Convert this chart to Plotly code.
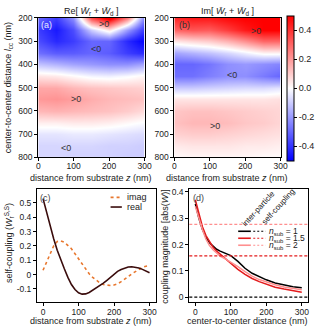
import plotly.graph_objects as go

W, H = 321, 332
FONT = "Liberation Sans, Arial, sans-serif"

# ---------------- data ----------------
z_grid = [0, 50, 100, 150, 200, 250, 300]
lcc_grid = [200, 250, 300, 350, 400, 450, 500, 550, 600, 650, 700, 750, 800]

re_w = [
    [-0.30, -0.38, -0.22, 0.35, 0.55, 0.25, -0.25],
    [-0.38, -0.45, -0.35, -0.10, 0.05, -0.20, -0.40],
    [-0.35, -0.42, -0.38, -0.30, -0.30, -0.42, -0.50],
    [-0.28, -0.32, -0.32, -0.30, -0.32, -0.38, -0.42],
    [-0.12, -0.15, -0.18, -0.20, -0.22, -0.22, -0.18],
    [0.05, 0.04, 0.01, -0.02, -0.03, -0.01, 0.02],
    [0.17, 0.17, 0.14, 0.12, 0.11, 0.10, 0.09],
    [0.20, 0.21, 0.19, 0.16, 0.14, 0.13, 0.12],
    [0.14, 0.15, 0.14, 0.13, 0.12, 0.10, 0.07],
    [0.03, 0.03, 0.04, 0.04, 0.03, 0.01, -0.01],
    [-0.05, -0.05, -0.04, -0.04, -0.05, -0.06, -0.07],
    [-0.08, -0.08, -0.08, -0.08, -0.09, -0.09, -0.10],
    [-0.08, -0.08, -0.09, -0.09, -0.09, -0.10, -0.10],
]

im_w = [
    [0.42, 0.45, 0.45, 0.48, 0.50, 0.50, 0.50],
    [0.30, 0.33, 0.32, 0.38, 0.45, 0.50, 0.50],
    [0.05, 0.08, 0.10, 0.15, 0.22, 0.30, 0.30],
    [-0.18, -0.15, -0.12, -0.08, -0.03, 0.02, 0.02],
    [-0.30, -0.30, -0.27, -0.22, -0.20, -0.22, -0.24],
    [-0.28, -0.28, -0.25, -0.22, -0.22, -0.26, -0.30],
    [-0.10, -0.10, -0.09, -0.08, -0.07, -0.07, -0.05],
    [0.05, 0.05, 0.05, 0.05, 0.05, 0.05, 0.06],
    [0.11, 0.12, 0.12, 0.11, 0.10, 0.09, 0.08],
    [0.12, 0.14, 0.14, 0.13, 0.11, 0.10, 0.08],
    [0.09, 0.10, 0.10, 0.09, 0.08, 0.07, 0.06],
    [0.04, 0.05, 0.05, 0.05, 0.04, 0.04, 0.03],
    [0.01, 0.02, 0.02, 0.02, 0.02, 0.01, 0.01],
]

z_line = [0, 10, 20, 30, 40, 50, 60, 70, 80, 90, 100, 110, 120, 130, 140, 150,
          160, 170, 180, 190, 200, 210, 220, 230, 240, 250, 260, 270, 280, 290, 300]
self_real = [0.53, 0.43, 0.34, 0.25, 0.17, 0.10, 0.04, -0.02, -0.07, -0.105, -0.128,
             -0.137, -0.135, -0.125, -0.11, -0.095, -0.078, -0.06, -0.04, -0.017, 0.005,
             0.022, 0.035, 0.045, 0.052, 0.054, 0.052, 0.045, 0.036, 0.025, 0.013]
self_imag = [0.03, 0.09, 0.15, 0.20, 0.23, 0.235, 0.225, 0.205, 0.18, 0.145, 0.11,
             0.07, 0.035, 0.005, -0.02, -0.04, -0.058, -0.07, -0.076, -0.077, -0.073,
             -0.065, -0.05, -0.035, -0.015, 0.005, 0.022, 0.038, 0.05, 0.058, 0.063]

dist = [0, 10, 20, 30, 40, 50, 60, 70, 80, 90, 100, 120, 140, 160, 180, 200, 225, 250, 275, 300]
inter_n1 = [0.355, 0.300, 0.257, 0.228, 0.207, 0.193, 0.182, 0.175, 0.170, 0.165, 0.158,
            0.136, 0.110, 0.091, 0.077, 0.066, 0.054, 0.046, 0.040, 0.036]
inter_n15 = [0.370, 0.313, 0.268, 0.234, 0.209, 0.190, 0.175, 0.163, 0.152, 0.140, 0.129,
             0.106, 0.087, 0.071, 0.059, 0.049, 0.038, 0.031, 0.025, 0.019]
inter_n2 = [0.345, 0.300, 0.256, 0.220, 0.196, 0.180, 0.166, 0.156, 0.149, 0.141, 0.135,
            0.116, 0.097, 0.080, 0.067, 0.057, 0.047, 0.039, 0.033, 0.028]
n_sub_labels = ["1", "1.5", "2"]
self_coupling = [0.0, 0.157, 0.277]

# ---------------- helpers ----------------
def px(x):
    return x / W

def py(y):
    return 1 - y / H

bwr = [[0, "rgb(0,0,255)"], [0.5, "rgb(255,255,255)"], [1, "rgb(255,0,0)"]]
colors_d = ["#000000", "#e31a1c", "#ff8f8f"]
c_real = "#3a0c0c"
c_imag = "#e8772e"

fig = go.Figure()

fig.add_trace(go.Heatmap(x=z_grid, y=lcc_grid, z=re_w, colorscale=bwr, zmin=-0.5, zmax=0.5,
                         zsmooth="best", showscale=False, xaxis="x", yaxis="y"))
fig.add_trace(go.Heatmap(x=z_grid, y=lcc_grid, z=im_w, colorscale=bwr, zmin=-0.5, zmax=0.5,
                         zsmooth="best", xaxis="x2", yaxis="y2",
                         colorbar=dict(x=px(293), xanchor="left", xpad=0, ypad=0,
                                       y=py((13.3 + 158) / 2), yanchor="middle",
                                       len=144.7, lenmode="pixels", thickness=7,
                                       outlinewidth=1, outlinecolor="black",
                                       tickvals=[-0.4, -0.2, 0.0, 0.2, 0.4],
                                       ticktext=["-0.4", "-0.2", "0.0", "0.2", "0.4"],
                                       ticks="outside", ticklen=3, tickcolor="black",
                                       tickfont=dict(size=9, family=FONT, color="#222"))))

fig.add_trace(go.Scatter(x=z_line, y=self_imag, mode="lines", xaxis="x3", yaxis="y3",
                         line=dict(color=c_imag, width=1.6, dash="dot"), showlegend=False))
fig.add_trace(go.Scatter(x=z_line, y=self_real, mode="lines", xaxis="x3", yaxis="y3",
                         line=dict(color=c_real, width=1.6), showlegend=False))

for vals, col in zip([inter_n1, inter_n15, inter_n2], colors_d):
    fig.add_trace(go.Scatter(x=dist, y=vals, mode="lines", xaxis="x4", yaxis="y4",
                             line=dict(color=col, width=1.5), showlegend=False))

shapes = []
for val, col in zip(self_coupling, colors_d):
    shapes.append(dict(type="line", xref="x4 domain", yref="y4", x0=0, x1=1, y0=val, y1=val,
                       line=dict(color=col, width=1.2, dash="3px,2px")))

# legend for (c)
shapes.append(dict(type="line", xref="paper", yref="paper", x0=px(111.7), x1=px(123.3),
                   y0=py(198.3), y1=py(198.3), line=dict(color=c_imag, width=1.6, dash="dot")))
shapes.append(dict(type="line", xref="paper", yref="paper", x0=px(111.7), x1=px(123.3),
                   y0=py(208.3), y1=py(208.3), line=dict(color=c_real, width=1.6)))
# legend for (d)
rows_y = [233.3, 240.5, 247.7]
for ry, col in zip(rows_y, colors_d):
    shapes.append(dict(type="line", xref="paper", yref="paper", x0=px(243), x1=px(256),
                       y0=py(ry), y1=py(ry), line=dict(color=col, width=1.6)))
    shapes.append(dict(type="line", xref="paper", yref="paper", x0=px(258.5), x1=px(271),
                       y0=py(ry), y1=py(ry), line=dict(color=col, width=1.2, dash="2px,2px")))

ann = []
def A(text, x, y, size=9, color="#222", angle=0, xanchor="center", xref="paper", yref="paper"):
    ann.append(dict(text=text, x=x, y=y, xref=xref, yref=yref, showarrow=False,
                    xanchor=xanchor, yanchor="middle", textangle=angle,
                    font=dict(size=size, family=FONT, color=color)))

wbar = "<i>W\u0304</i>"
A(f"Re[ {wbar}<sub>r</sub> + {wbar}<sub>d</sub> ]", px(92), py(6.5))
A(f"Im[ {wbar}<sub>r</sub> + {wbar}<sub>d</sub> ]", px(232), py(6.5))
A("distance from substrate <i>z</i> (nm)", px(92), py(178))
A("distance from substrate <i>z</i> (nm)", px(232), py(178))
A("distance from substrate <i>z</i> (nm)", px(92), py(325.5))
A("center-to-center distance (nm)", px(253), py(325.5))
A("center-to-center distance <i>l</i><sub>cc</sub> (nm)", px(7), py(85), angle=-90)
A("self-coupling (<i>W</i><sub>r</sub><sup>S,S</sup>)", px(7.5), py(245), angle=-90)
A("coupling magnitude [abs(<i>W</i>)]", px(167.5), py(248.5), angle=-90)

A("(a)", px(46), py(21), color="#e8ecff")
A("(b)", px(187.5), py(21), color="#333")
A("(c)", px(44.5), py(198.5), color="#444")
A("(d)", px(202.5), py(199), color="#444")

for t, zx, ly in [(">0", 186, 225), ("<0", 164, 335), (">0", 107, 548), ("<0", 77, 758)]:
    A(t, zx, ly, size=9, color="#333", xref="x", yref="y")
for t, zx, ly in [(">0", 230, 258), ("<0", 164, 444), (">0", 115, 664)]:
    A(t, zx, ly, size=9, color="#333", xref="x2", yref="y2")

A("imag", px(126.5), py(198.3), xanchor="left")
A("real", px(126.5), py(208.3), xanchor="left")
for ry, lab in zip(rows_y, n_sub_labels):
    A(f"<i>n</i><sub>sub</sub> = {lab}", px(273), py(ry), size=8.5, xanchor="left")
A("inter-particle", px(264), py(209.5), size=8, angle=-48)
A("self-coupling", px(284.5), py(208), size=8, angle=-48)

axis_common = dict(showline=True, linecolor="black", linewidth=1, mirror=True,
                   ticks="outside", ticklen=3, tickcolor="black", tickwidth=1,
                   showgrid=False, zeroline=False,
                   tickfont=dict(size=8.5, family=FONT, color="#222"))
xcommon = dict(axis_common, ticklabelstandoff=-2)

fig.update_layout(
    width=W, height=H, margin=dict(l=0, r=0, t=0, b=0),
    paper_bgcolor="white", plot_bgcolor="white", showlegend=False,
    font=dict(family=FONT, size=9, color="#222"),
    xaxis=dict(domain=[px(37.3), px(146.7)], range=[0, 300], anchor="y",
               tickvals=[0, 100, 200, 300], **xcommon),
    yaxis=dict(domain=[py(157), py(13.3)], range=[800, 200], anchor="x",
               tickvals=[200, 300, 400, 500, 600, 700, 800], **axis_common),
    xaxis2=dict(domain=[px(177.3), px(286.7)], range=[0, 300], anchor="y2",
                tickvals=[0, 100, 200, 300], **xcommon),
    yaxis2=dict(domain=[py(157), py(13.3)], range=[800, 200], anchor="x2",
                tickvals=[200, 300, 400, 500, 600, 700, 800], **axis_common),
    xaxis3=dict(domain=[px(36), px(158)], range=[-17, 317], anchor="y3",
                tickvals=[0, 100, 200, 300], **xcommon),
    yaxis3=dict(domain=[py(306.7), py(190)], range=[-0.195, 0.595], anchor="x3",
                tickvals=[-0.1, 0, 0.1, 0.2, 0.3, 0.4, 0.5],
                ticktext=["-0.1", "0", "0.1", "0.2", "0.3", "0.4", "0.5"], **axis_common),
    xaxis4=dict(domain=[px(192.7), px(315)], range=[-17, 318], anchor="y4",
                tickvals=[0, 100, 200, 300], **xcommon),
    yaxis4=dict(domain=[py(306.7), py(190)], range=[-0.02, 0.41], anchor="x4",
                tickvals=[0, 0.1, 0.2, 0.3, 0.4],
                ticktext=["0", "0.1", "0.2", "0.3", "0.4"], **axis_common),
    shapes=shapes, annotations=ann,
)

fig.write_html("out.html", config={"displayModeBar": False},
               post_script="document.body.style.margin='0';document.body.style.overflow='hidden';")
